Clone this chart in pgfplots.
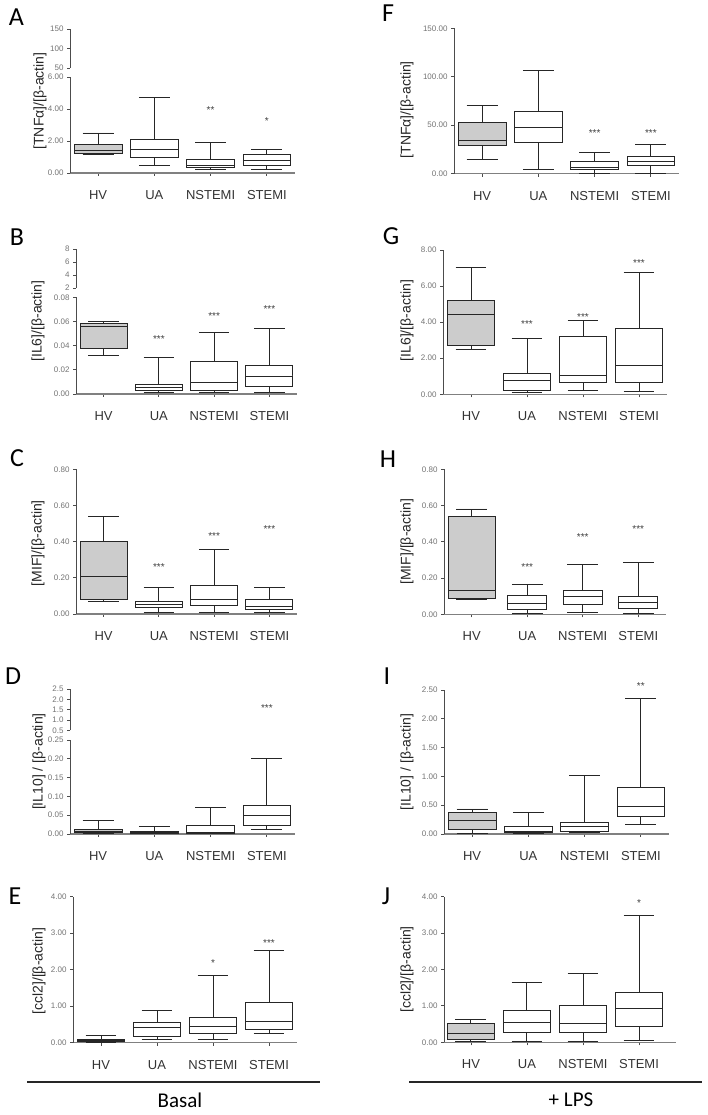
\documentclass[border=0pt]{standalone}
\usepackage{fontspec}
\setmainfont{Liberation Sans}
\newfontfamily\calib{Carlito}
\usepackage{pgfplots}
\pgfplotsset{compat=1.18}
\usepgfplotslibrary{statistics}
\definecolor{hvfill}{gray}{0.8}
\definecolor{axisgray}{gray}{0.3}
\definecolor{xaxisgray}{gray}{0.5}
\tikzset{
  star/.style={font=\fontsize{10}{10}\selectfont, text=black!75},
  letter/.style={font=\calib\fontsize{26}{28}\selectfont, text=black},
}
\pgfplotsset{
  panel/.style={
    scale only axis, anchor=south west, clip=false,
    axis x line*=bottom, axis y line*=left,
    xmin=-0.5, xmax=3.5,
    xtick={0,1,2,3}, xticklabels={HV,UA,NSTEMI,STEMI},
    tick align=outside, major tick length=3pt,
    scaled y ticks=false,
    x axis line style={xaxisgray, line width=1.4pt},
    y axis line style={axisgray, line width=1pt},
    tick style={axisgray, line width=0.8pt},
    xticklabel style={font=\fontsize{13}{14}\selectfont, text=black!80, yshift=-11pt},
    yticklabel style={font=\fontsize{8}{9}\selectfont, text=black!55},
    ylabel style={font=\fontsize{14}{15}\selectfont, text=black!85, anchor=center},
    boxplot/draw direction=y,
    boxplot/box extend=0.85,
    boxplot/whisker extend=0.55,
  },
  upper/.style={
    scale only axis, anchor=south west, clip=false,
    axis x line=none, axis y line*=left,
    xmin=0, xmax=1, xtick=\empty,
    tick align=outside, major tick length=3pt,
    scaled y ticks=false,
    y axis line style={axisgray, line width=1pt},
    tick style={axisgray, line width=0.8pt},
    yticklabel style={font=\fontsize{8}{9}\selectfont, text=black!55},
  },
  bx/.style={draw=black!85, line width=0.9pt, solid, fill=white},
  hv/.style={bx, fill=hvfill},
}
\begin{document}
\begin{tikzpicture}
\useasboundingbox (0,0) rectangle (708pt,1115pt);

% ---------------- A ----------------
\begin{axis}[panel, at={(70pt,942pt)}, width=225pt, height=96pt,
  ymin=0, ymax=6, ytick={0,2,4,6}, yticklabels={0.00,2.00,4.00,6.00},
  ylabel={[TNFα]/[β-actin]}, ylabel style={at={(axis description cs:-0.133,0.75)}}]
\addplot[hv, boxplot prepared={draw position=0, lower whisker=1.15, lower quartile=1.25, median=1.4, upper quartile=1.8, upper whisker=2.5}] coordinates {};
\addplot[bx, boxplot prepared={draw position=1, lower whisker=0.5, lower quartile=0.98, median=1.5, upper quartile=2.07, upper whisker=4.75}] coordinates {};
\addplot[bx, boxplot prepared={draw position=2, lower whisker=0.25, lower quartile=0.36, median=0.46, upper quartile=0.82, upper whisker=1.92}] coordinates {};
\addplot[bx, boxplot prepared={draw position=3, lower whisker=0.25, lower quartile=0.46, median=0.77, upper quartile=1.17, upper whisker=1.49}] coordinates {};
\node[star] at (axis cs:2,3.95) {**};
\node[star] at (axis cs:3,3.22) {*};
\end{axis}
\begin{axis}[upper, at={(70pt,1047pt)}, width=225pt, height=39pt,
  ymin=50, ymax=150, ytick={50,100,150}, yticklabels={50,100,150}]
\end{axis}

% ---------------- F ----------------
\begin{axis}[panel, at={(454pt,941.3pt)}, width=225pt, height=145.4pt,
  ymin=0, ymax=150, ytick={0,50,100,150}, yticklabels={0.00,50.00,100.00,150.00},
  ylabel={[TNFα]/[β-actin]}, ylabel style={at={(axis description cs:-0.209,0.44)}}]
\addplot[hv, boxplot prepared={draw position=0, lower whisker=15.1, lower quartile=29.6, median=34.7, upper quartile=53.3, upper whisker=70.5}] coordinates {};
\addplot[bx, boxplot prepared={draw position=1, lower whisker=4.8, lower quartile=32, median=47.5, upper quartile=64, upper whisker=106.6}] coordinates {};
\addplot[bx, boxplot prepared={draw position=2, lower whisker=0.7, lower quartile=4.5, median=6.5, upper quartile=12.7, upper whisker=21.7}] coordinates {};
\addplot[bx, boxplot prepared={draw position=3, lower whisker=0.7, lower quartile=8.3, median=12.7, upper quartile=17.5, upper whisker=30.6}] coordinates {};
\node[star] at (axis cs:2,42.3) {***};
\node[star] at (axis cs:3,42.3) {***};
\end{axis}

% ---------------- B ----------------
\begin{axis}[panel, at={(76pt,721pt)}, width=221pt, height=96.7pt,
  ymin=0, ymax=0.08, ytick={0,0.02,0.04,0.06,0.08}, yticklabels={0.00,0.02,0.04,0.06,0.08},
  ylabel={[IL6]/[β-actin]}, ylabel style={at={(axis description cs:-0.172,0.755)}}]
\addplot[hv, boxplot prepared={draw position=0, lower whisker=0.032, lower quartile=0.038, median=0.056, upper quartile=0.0585, upper whisker=0.06}] coordinates {};
\addplot[bx, boxplot prepared={draw position=1, lower whisker=0.001, lower quartile=0.0033, median=0.0055, upper quartile=0.0083, upper whisker=0.0303}] coordinates {};
\addplot[bx, boxplot prepared={draw position=2, lower whisker=0.001, lower quartile=0.0033, median=0.0094, upper quartile=0.0268, upper whisker=0.0508}] coordinates {};
\addplot[bx, boxplot prepared={draw position=3, lower whisker=0.001, lower quartile=0.0061, median=0.0149, upper quartile=0.0232, upper whisker=0.0543}] coordinates {};
\node[star] at (axis cs:1,0.0455) {***};
\node[star] at (axis cs:2,0.0648) {***};
\node[star] at (axis cs:3,0.070) {***};
\end{axis}
\begin{axis}[upper, at={(76pt,827pt)}, width=221pt, height=39pt,
  ymin=2, ymax=8, ytick={2,4,6,8}, yticklabels={2,4,6,8}]
\end{axis}

% ---------------- G ----------------
\begin{axis}[panel, at={(443pt,720.7pt)}, width=224pt, height=144.3pt,
  ymin=0, ymax=8, ytick={0,2,4,6,8}, yticklabels={0.00,2.00,4.00,6.00,8.00},
  ylabel={[IL6]/[β-actin]}, ylabel style={at={(axis description cs:-0.161,0.51)}}]
\addplot[hv, boxplot prepared={draw position=0, lower whisker=2.5, lower quartile=2.68, median=4.44, upper quartile=5.23, upper whisker=7.02}] coordinates {};
\addplot[bx, boxplot prepared={draw position=1, lower whisker=0.11, lower quartile=0.24, median=0.79, upper quartile=1.16, upper whisker=3.1}] coordinates {};
\addplot[bx, boxplot prepared={draw position=2, lower whisker=0.2, lower quartile=0.65, median=1.02, upper quartile=3.2, upper whisker=4.12}] coordinates {};
\addplot[bx, boxplot prepared={draw position=3, lower whisker=0.15, lower quartile=0.65, median=1.59, upper quartile=3.66, upper whisker=6.77}] coordinates {};
\node[star] at (axis cs:1,3.9) {***};
\node[star] at (axis cs:2,4.3) {***};
\node[star] at (axis cs:3,7.26) {***};
\end{axis}

% ---------------- C ----------------
\begin{axis}[panel, at={(76pt,501pt)}, width=221pt, height=144.7pt,
  ymin=0, ymax=0.8, ytick={0,0.2,0.4,0.6,0.8}, yticklabels={0.00,0.20,0.40,0.60,0.80},
  ylabel={[MIF]/[β-actin]}, ylabel style={at={(axis description cs:-0.172,0.49)}}]
\addplot[hv, boxplot prepared={draw position=0, lower whisker=0.07, lower quartile=0.081, median=0.206, upper quartile=0.40, upper whisker=0.538}] coordinates {};
\addplot[bx, boxplot prepared={draw position=1, lower whisker=0.007, lower quartile=0.035, median=0.053, upper quartile=0.072, upper whisker=0.146}] coordinates {};
\addplot[bx, boxplot prepared={draw position=2, lower whisker=0.007, lower quartile=0.046, median=0.081, upper quartile=0.16, upper whisker=0.358}] coordinates {};
\addplot[bx, boxplot prepared={draw position=3, lower whisker=0.007, lower quartile=0.026, median=0.041, upper quartile=0.083, upper whisker=0.146}] coordinates {};
\node[star] at (axis cs:1,0.262) {***};
\node[star] at (axis cs:2,0.431) {***};
\node[star] at (axis cs:3,0.468) {***};
\end{axis}

% ---------------- H ----------------
\begin{axis}[panel, at={(444pt,500.7pt)}, width=222pt, height=145pt,
  ymin=0, ymax=0.8, ytick={0,0.2,0.4,0.6,0.8}, yticklabels={0.00,0.20,0.40,0.60,0.80},
  ylabel={[MIF]/[β-actin]}, ylabel style={at={(axis description cs:-0.167,0.5)}}]
\addplot[hv, boxplot prepared={draw position=0, lower whisker=0.081, lower quartile=0.085, median=0.131, upper quartile=0.539, upper whisker=0.581}] coordinates {};
\addplot[bx, boxplot prepared={draw position=1, box extend=0.7, lower whisker=0.006, lower quartile=0.028, median=0.061, upper quartile=0.105, upper whisker=0.162}] coordinates {};
\addplot[bx, boxplot prepared={draw position=2, box extend=0.7, lower whisker=0.011, lower quartile=0.057, median=0.097, upper quartile=0.129, upper whisker=0.276}] coordinates {};
\addplot[bx, boxplot prepared={draw position=3, box extend=0.7, lower whisker=0.006, lower quartile=0.033, median=0.064, upper quartile=0.097, upper whisker=0.287}] coordinates {};
\node[star] at (axis cs:1,0.263) {***};
\node[star] at (axis cs:2,0.428) {***};
\node[star] at (axis cs:3,0.469) {***};
\end{axis}

% ---------------- D ----------------
\begin{axis}[panel, at={(70pt,281pt)}, width=225pt, height=94pt,
  ymin=0, ymax=0.25, ytick={0,0.05,0.1,0.15,0.2,0.25}, yticklabels={0.00,0.05,0.10,0.15,0.20,0.25},
  ylabel={[IL10] / [β-actin]}, ylabel style={at={(axis description cs:-0.138,0.77)}}]
\addplot[hv, boxplot prepared={draw position=0, lower whisker=0.001, lower quartile=0.003, median=0.006, upper quartile=0.012, upper whisker=0.035}] coordinates {};
\addplot[bx, boxplot prepared={draw position=1, lower whisker=0.001, lower quartile=0.0018, median=0.0035, upper quartile=0.0062, upper whisker=0.0195}] coordinates {};
\addplot[bx, boxplot prepared={draw position=2, lower whisker=0.001, lower quartile=0.0027, median=0.0053, upper quartile=0.022, upper whisker=0.07}] coordinates {};
\addplot[bx, boxplot prepared={draw position=3, lower whisker=0.0124, lower quartile=0.024, median=0.048, upper quartile=0.075, upper whisker=0.2}] coordinates {};
\end{axis}
\begin{axis}[upper, at={(70pt,384.5pt)}, width=225pt, height=41.5pt,
  ymin=0.5, ymax=2.5, ytick={0.5,1,1.5,2,2.5}, yticklabels={0.5,1.0,1.5,2.0,2.5},
  xmin=-0.5, xmax=3.5]
\node[star] at (axis cs:3,1.57) {***};
\end{axis}

% ---------------- I ----------------
\begin{axis}[panel, at={(444pt,281pt)}, width=225pt, height=144pt,
  ymin=0, ymax=2.5, ytick={0,0.5,1,1.5,2,2.5}, yticklabels={0.00,0.50,1.00,1.50,2.00,2.50},
  ylabel={[IL10] / [β-actin]}, ylabel style={at={(axis description cs:-0.164,0.5)}}]
\addplot[hv, boxplot prepared={draw position=0, lower whisker=0.012, lower quartile=0.081, median=0.237, upper quartile=0.376, upper whisker=0.434}] coordinates {};
\addplot[bx, boxplot prepared={draw position=1, lower whisker=0.006, lower quartile=0.023, median=0.046, upper quartile=0.127, upper whisker=0.376}] coordinates {};
\addplot[bx, boxplot prepared={draw position=2, lower whisker=0.023, lower quartile=0.052, median=0.127, upper quartile=0.197, upper whisker=1.024}] coordinates {};
\addplot[bx, boxplot prepared={draw position=3, lower whisker=0.162, lower quartile=0.301, median=0.486, upper quartile=0.804, upper whisker=2.355}] coordinates {};
\node[star] at (axis cs:3,2.56) {**};
\end{axis}

% ---------------- E ----------------
\begin{axis}[panel, at={(73pt,72.3pt)}, width=224pt, height=146pt,
  ymin=0, ymax=4, ytick={0,1,2,3,4}, yticklabels={0.00,1.00,2.00,3.00,4.00},
  ylabel={[ccl2]/[β-actin]}, ylabel style={at={(axis description cs:-0.152,0.49)}}]
\addplot[hv, boxplot prepared={draw position=0, lower whisker=0.01, lower quartile=0.027, median=0.055, upper quartile=0.1, upper whisker=0.19}] coordinates {};
\addplot[bx, boxplot prepared={draw position=1, lower whisker=0.09, lower quartile=0.183, median=0.41, upper quartile=0.557, upper whisker=0.87}] coordinates {};
\addplot[bx, boxplot prepared={draw position=2, lower whisker=0.09, lower quartile=0.256, median=0.438, upper quartile=0.694, upper whisker=1.836}] coordinates {};
\addplot[bx, boxplot prepared={draw position=3, lower whisker=0.256, lower quartile=0.365, median=0.594, upper quartile=1.096, upper whisker=2.52}] coordinates {};
\node[star] at (axis cs:2,2.19) {*};
\node[star] at (axis cs:3,2.74) {***};
\end{axis}

% ---------------- J ----------------
\begin{axis}[panel, at={(444pt,72.7pt)}, width=232pt, height=145.6pt,
  xmin=-0.48, xmax=3.66,
  ymin=0, ymax=4, ytick={0,1,2,3,4}, yticklabels={0.00,1.00,2.00,3.00,4.00},
  ylabel={[ccl2]/[β-actin]}, ylabel style={at={(axis description cs:-0.159,0.5)}}]
\addplot[hv, boxplot prepared={draw position=0, lower whisker=0.027, lower quartile=0.092, median=0.247, upper quartile=0.522, upper whisker=0.632}] coordinates {};
\addplot[bx, boxplot prepared={draw position=1, lower whisker=0.02, lower quartile=0.265, median=0.54, upper quartile=0.888, upper whisker=1.64}] coordinates {};
\addplot[bx, boxplot prepared={draw position=2, lower whisker=0.02, lower quartile=0.265, median=0.522, upper quartile=1.025, upper whisker=1.886}] coordinates {};
\addplot[bx, boxplot prepared={draw position=3, lower whisker=0.064, lower quartile=0.43, median=0.934, upper quartile=1.364, upper whisker=3.48}] coordinates {};
\node[star] at (axis cs:3,3.82) {*};
\end{axis}

% ---------------- decorations ----------------
\draw[line width=1.8pt, black!85] (27pt,33pt) -- (320pt,33pt);
\draw[line width=1.8pt, black!85] (409pt,33pt) -- (702pt,33pt);
\node[font=\calib\fontsize{21}{22}\selectfont] at (180pt,15pt) {Basal};
\node[font=\calib\fontsize{21}{22}\selectfont] at (571pt,15pt) {+ LPS};

\node[letter] at (16.5pt,1098.3pt) {A};
\node[letter] at (388pt,1102pt) {F};
\node[letter] at (17pt,878pt) {B};
\node[letter] at (391pt,879pt) {G};
\node[letter] at (17pt,657pt) {C};
\node[letter] at (388pt,656pt) {H};
\node[letter] at (13pt,439pt) {D};
\node[letter] at (387pt,439pt) {I};
\node[letter] at (15pt,219pt) {E};
\node[letter] at (386pt,219pt) {J};
\end{tikzpicture}
\end{document}
